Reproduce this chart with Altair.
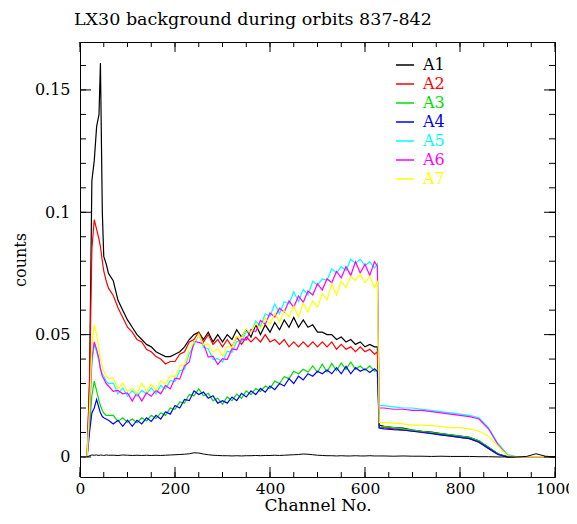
import altair as alt
import pandas as pd

# ---------------- data ----------------
CH = [15, 20, 25, 30, 35, 40, 43, 47, 50, 55, 60,
      70, 80, 90, 100, 110, 120, 130, 140, 150, 160,
      170, 180, 190, 200, 210, 220, 230, 240, 250, 260,
      270, 280, 290, 300, 310, 320, 330, 340, 350, 360,
      370, 380, 390, 400, 410, 420, 430, 440, 450, 460,
      470, 480, 490, 500, 510, 520, 530, 540, 550, 560,
      570, 580, 590, 600, 610, 620,
      626,
      630, 640, 660, 680, 700, 720, 740, 760, 780, 800,
      820, 840, 860, 880, 900, 920, 940, 960, 980, 1000]

A1 = [0, .03, .113, .121, .135, .140, .161, .100, .082, .079, .075,
      .072, .064, .060, .056, .053, .050, .048, .046, .045, .043,
      .042, .041, .041, .042, .043, .045, .048, .050, .051, .048,
      .051, .047, .050, .047, .050, .048, .052, .049, .052, .049,
      .054, .050, .054, .051, .055, .052, .056, .053, .057, .053,
      .056, .053, .054, .051, .051, .050, .050, .048, .049, .047,
      .048, .046, .047, .045, .046, .045,
      .045,
      .013, .0125, .012, .0118, .011, .0105, .0102, .0095, .009, .0085,
      .008, .0065, .004, .0013, 0, 0, 0, 0, 0, 0]

A2 = [0, .03, .085, .097, .093, .089, .086, .080, .076, .072, .069,
      .066, .061, .057, .053, .051, .048, .047, .044, .043, .041,
      .040, .038, .039, .039, .042, .043, .047, .048, .051, .047,
      .050, .046, .048, .045, .048, .045, .049, .046, .049, .047,
      .049, .047, .050, .047, .048, .046, .048, .045, .047, .045,
      .047, .045, .047, .045, .047, .045, .047, .044, .046, .044,
      .045, .043, .045, .043, .044, .042,
      .043,
      .012, .012, .0115, .011, .0105, .0102, .0097, .009, .0086, .008,
      .0075, .006, .0035, .001, 0, 0, 0, 0, 0, 0]

A3 = [0, .012, .025, .031, .027, .023, .021, .019, .018, .017, .017,
      .0170, .0145, .0160, .0142, .0155, .0140, .0160, .0147, .0170, .0157,
      .0180, .0170, .0200, .0195, .0225, .0220, .0255, .0250, .0278, .0250,
      .0260, .0230, .0240, .0215, .0245, .0230, .0257, .0240, .0270, .0255,
      .0280, .0268, .0290, .0280, .0310, .0300, .0328, .0320, .0350, .0340,
      .0358, .0347, .0372, .0346, .0379, .0348, .0382, .0353, .0384, .0358,
      .0388, .0358, .0372, .0355, .0372, .0350,
      .0355,
      .012, .0125, .012, .0115, .011, .0105, .010, .0095, .009, .0085,
      .008, .0066, .004, .0012, 0, 0, 0, 0, 0, 0]

A4 = [0, .010, .018, .020, .0235, .020, .018, .0165, .016, .0155, .015,
      .0135, .0150, .0125, .0150, .0125, .0150, .0135, .0160, .0145, .0170,
      .0155, .0185, .0175, .0210, .0200, .0235, .0230, .0270, .0255, .0265,
      .0240, .0250, .0220, .0230, .0220, .0245, .0230, .0260, .0245, .0270,
      .0255, .0280, .0265, .0290, .0275, .0300, .0290, .0320, .0300, .0330,
      .0315, .0340, .0330, .0350, .0340, .0355, .0340, .0365, .0340, .0370,
      .0340, .0365, .0350, .0360, .0345, .0360,
      .035,
      .0118, .0115, .0112, .011, .0105, .010, .0095, .009, .0085, .008,
      .0075, .006, .0035, .001, 0, 0, 0, 0, 0, 0]

A5 = [0, .017, .038, .046, .043, .039, .036, .034, .033, .031, .030,
      .0302, .0258, .0282, .0248, .0272, .0248, .0272, .0258, .0282, .0258,
      .0292, .0278, .0312, .0308, .0352, .0358, .0422, .0458, .0502, .0448,
      .0442, .0398, .0402, .0388, .0432, .0428, .0472, .0468, .0512, .0508,
      .0555, .0535, .0585, .0575, .0625, .0585, .0635, .0625, .0675, .0635,
      .0685, .0662, .0718, .0702, .0728, .0722, .0768, .0752, .0778, .0762,
      .0808, .0792, .0808, .0782, .0798, .0772,
      .079,
      .021, .021, .0205, .020, .020, .0195, .019, .0185, .018, .0175,
      .017, .016, .012, .0055, .001, 0, 0, 0, 0, 0]

A6 = [0, .018, .040, .047, .044, .040, .036, .033, .032, .030, .029,
      .0268, .0272, .0258, .0262, .0228, .0262, .0228, .0262, .0248, .0272,
      .0258, .0292, .0278, .0322, .0318, .0372, .0388, .0472, .0468, .0462,
      .0408, .0412, .0378, .0402, .0398, .0442, .0438, .0482, .0478, .0522,
      .0512, .0558, .0542, .0588, .0572, .0608, .0592, .0638, .0612, .0658,
      .0632, .0678, .0662, .0708, .0682, .0728, .0712, .0758, .0732, .0778,
      .0742, .0798, .0752, .0788, .0742, .0798,
      .078,
      .020, .020, .0195, .0195, .019, .019, .0185, .018, .0175, .017,
      .0165, .0155, .0115, .005, .0005, 0, 0, 0, 0, 0]

A7 = [0, .020, .045, .054, .050, .044, .040, .037, .035, .033, .032,
      .0322, .0278, .0302, .0268, .0282, .0258, .0302, .0268, .0297, .0273,
      .0312, .0298, .0332, .0328, .0372, .0378, .0442, .0468, .0502, .0458,
      .0462, .0428, .0442, .0413, .0452, .0448, .0492, .0488, .0522, .0508,
      .0545, .0525, .0568, .0542, .0588, .0552, .0598, .0572, .0618, .0572,
      .0628, .0592, .0638, .0612, .0668, .0642, .0708, .0662, .0718, .0692,
      .0738, .0722, .0748, .0712, .0738, .0692,
      .072,
      .014, .014, .0138, .0135, .013, .013, .0128, .0125, .012, .012,
      .0115, .0105, .0085, .0045, .0005, 0, 0, 0, 0, 0]

BASE = [0, .0005, .0008, .0007, .0008, .0006, .0008, .0007, .0006, .0008, .0007,
        .0007, .0006, .0008, .0007, .0006, .0007, .0006, .0007, .0006, .0007,
        .0006, .0007, .0008, .0009, .0010, .0011, .0013, .0017, .0016, .0012,
        .0009, .0007, .0006, .0005, .0005, .0004, .0005, .0004, .0005, .0005,
        .0006, .0005, .0006, .0006, .0007, .0006, .0007, .0008, .0009, .0010,
        .0012, .0011, .0009, .0007, .0006, .0005, .0005, .0004, .0005, .0004,
        .0004, .0005, .0004, .0004, .0005, .0004,
        .0004,
        .0004, .0004, .0003, .0004, .0003, .0003, .0002, .0003, .0002, .0002,
        .0002, .0001, .0001, 0, 0, 0, .0002, .0013, .0003, 0]

SERIES = ["A1", "A2", "A3", "A4", "A5", "A6", "A7"]
COLORS = ["#000000", "#ff0000", "#00dd00", "#0000ff", "#00ffff", "#ff00ff", "#ffff00"]
X_MINOR = [0, 50, 100, 150, 200, 250, 300, 350, 400, 450, 500,
           550, 600, 650, 700, 750, 800, 850, 900, 950, 1000]
X_MAJOR = [0, 200, 400, 600, 800, 1000]
Y_MINOR = [0, 0.01, 0.02, 0.03, 0.04, 0.05, 0.06, 0.07, 0.08,
           0.09, 0.1, 0.11, 0.12, 0.13, 0.14, 0.15, 0.16]
Y_MAJOR = [0, 0.05, 0.1, 0.15]

# ---------------- tables ----------------
rows = []
for i, (name, vals) in enumerate(zip(SERIES, [A1, A2, A3, A4, A5, A6, A7])):
    assert len(vals) == len(CH), (name, len(vals), len(CH))
    for c, v in zip(CH, vals):
        rows.append({"channel": c, "counts": v, "series": name, "k": i})
df = pd.DataFrame(rows)
assert len(BASE) == len(CH)
base_df = pd.DataFrame({"channel": CH, "counts": BASE})

W, H = 475, 435
FONT = "DejaVu Serif"
xscale = alt.Scale(domain=[0, 1000], nice=False, zero=False)
yscale = alt.Scale(domain=[-0.0082, 0.1696], nice=False, zero=False)

ax_x_lab = alt.Axis(orient="bottom", values=X_MAJOR, format="d", labelFlush=False,
                    ticks=False, domain=False, grid=False, labelPadding=4,
                    labelFont=FONT, labelFontSize=15.5, labelColor="black",
                    title="Channel No.", titleFont=FONT, titleFontSize=17,
                    titleFontWeight="normal", titleColor="black", titlePadding=1)
ax_y_lab = alt.Axis(orient="left", values=Y_MAJOR, format="~g", labelFlush=False,
                    ticks=False, domain=False, grid=False, labelPadding=10,
                    labelFont=FONT, labelFontSize=16, labelColor="black",
                    title="counts", titleFont=FONT, titleFontSize=16,
                    titleFontWeight="normal", titleColor="black", titlePadding=6)

lines = alt.Chart(df).mark_line(strokeWidth=1.2).encode(
    x=alt.X("channel:Q", scale=xscale, axis=ax_x_lab),
    y=alt.Y("counts:Q", scale=yscale, axis=ax_y_lab),
    color=alt.Color("series:N",
                    scale=alt.Scale(domain=SERIES, range=COLORS),
                    legend=alt.Legend(orient="none", legendX=315, legendY=13,
                                      title=None, symbolType="stroke",
                                      symbolSize=324, symbolStrokeWidth=1.5,
                                      labelFont=FONT, labelFontSize=16,
                                      labelOffset=8, rowPadding=1, padding=0,
                                      labelColor={"expr": "scale('color', datum.value)"})),
    order=alt.Order("k:Q"),
)

# every layer carries the same axis definition so that the shared axes merge
base_line = alt.Chart(base_df).mark_line(strokeWidth=1, color="black").encode(
    x=alt.X("channel:Q", scale=xscale, axis=ax_x_lab),
    y=alt.Y("counts:Q", scale=yscale, axis=ax_y_lab),
)

# inward frame ticks, placed through the same scales as the data
def xticks(values, y0, y1):
    return alt.Chart(pd.DataFrame({"channel": values})).mark_rule(
        color="black", strokeWidth=1).encode(
        x=alt.X("channel:Q", scale=xscale, axis=ax_x_lab),
        y=alt.value(y0), y2=alt.value(y1))

def yticks(values, x0, x1):
    return alt.Chart(pd.DataFrame({"counts": values})).mark_rule(
        color="black", strokeWidth=1).encode(
        y=alt.Y("counts:Q", scale=yscale, axis=ax_y_lab),
        x=alt.value(x0), x2=alt.value(x1))

tick_layers = [
    xticks(X_MINOR, H, H - 5), xticks(X_MAJOR, H, H - 10),
    xticks(X_MINOR, 0, 5), xticks(X_MAJOR, 0, 10),
    yticks(Y_MINOR, 0, 6), yticks(Y_MAJOR, 0, 11),
    yticks(Y_MINOR, W, W - 6), yticks(Y_MAJOR, W, W - 11),
]

chart = alt.layer(lines, base_line, *tick_layers).properties(
    width=W, height=H,
    title=alt.TitleParams("LX30 background during orbits 837-842", anchor="start",
                          frame="group", font=FONT, fontSize=17.5, fontWeight="normal",
                          color="black", offset=13, dx=-6),
    autosize=alt.AutoSizeParams(type="none"),
    padding={"left": 72, "top": 34, "right": 14, "bottom": 39},
).configure_view(stroke="black", strokeWidth=1)

chart.save("out.html", embed_options={"renderer": "svg", "actions": False})
